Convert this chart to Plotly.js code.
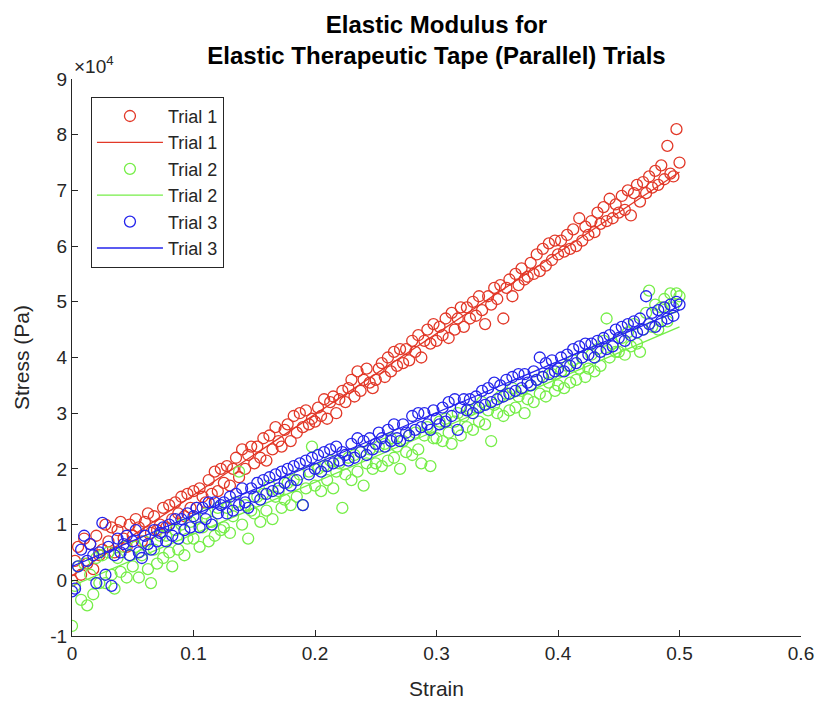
<!DOCTYPE html>
<html>
<head>
<meta charset="utf-8">
<script src="https://cdn.plot.ly/plotly-3.0.1.min.js"></script>
<style>html,body{margin:0;padding:0;background:#fff;}#chart{width:825px;height:719px;}</style>
</head>
<body>
<div id="chart"></div>
<script>
// Strain values (shared by all three trials)
const strain = [
0,0.0025,0.005,0.0075,0.01,0.0125,0.015,0.0175,0.02,0.0225,
0.025,0.0275,0.03,0.0325,0.035,0.0375,0.04,0.0425,0.045,0.0475,
0.05,0.0525,0.055,0.0575,0.06,0.0625,0.065,0.0675,0.07,0.0725,
0.075,0.0775,0.08,0.0825,0.085,0.0875,0.09,0.0925,0.095,0.0975,
0.1,0.1025,0.105,0.1075,0.11,0.1125,0.115,0.1175,0.12,0.1225,
0.125,0.1275,0.13,0.1325,0.135,0.1375,0.14,0.1425,0.145,0.1475,
0.15,0.1525,0.155,0.1575,0.16,0.1625,0.165,0.1675,0.17,0.1725,
0.175,0.1775,0.18,0.1825,0.185,0.1875,0.19,0.1925,0.195,0.1975,
0.2,0.2025,0.205,0.2075,0.21,0.2125,0.215,0.2175,0.22,0.2225,
0.225,0.2275,0.23,0.2325,0.235,0.2375,0.24,0.2425,0.245,0.2475,
0.25,0.2525,0.255,0.2575,0.26,0.2625,0.265,0.2675,0.27,0.2725,
0.275,0.2775,0.28,0.2825,0.285,0.2875,0.29,0.2925,0.295,0.2975,
0.3,0.3025,0.305,0.3075,0.31,0.3125,0.315,0.3175,0.32,0.3225,
0.325,0.3275,0.33,0.3325,0.335,0.3375,0.34,0.3425,0.345,0.3475,
0.35,0.3525,0.355,0.3575,0.36,0.3625,0.365,0.3675,0.37,0.3725,
0.375,0.3775,0.38,0.3825,0.385,0.3875,0.39,0.3925,0.395,0.3975,
0.4,0.4025,0.405,0.4075,0.41,0.4125,0.415,0.4175,0.42,0.4225,
0.425,0.4275,0.43,0.4325,0.435,0.4375,0.44,0.4425,0.445,0.4475,
0.45,0.4525,0.455,0.4575,0.46,0.4625,0.465,0.4675,0.47,0.4725,
0.475,0.4775,0.48,0.4825,0.485,0.4875,0.49,0.4925,0.495,0.4975,
0.5];

// Stress in units of 10^4 Pa
const trial1Stress = [
0.0,0.35,0.6,0.1,0.75,0.3,0.65,0.2,0.8,0.45,
0.55,1.0,0.7,0.95,0.5,0.9,1.05,0.75,0.6,1.0,
0.8,1.1,0.95,0.7,1.05,1.2,0.85,1.15,0.9,1.0,
1.3,0.95,1.35,1.1,1.4,1.2,1.5,1.15,1.55,1.3,
1.6,1.3,1.65,1.5,1.4,1.8,1.55,1.95,1.6,2.0,
1.75,2.05,1.7,2.0,2.2,1.85,2.35,2.0,2.25,2.4,
2.1,2.4,2.2,2.55,2.15,2.6,2.35,2.75,2.5,2.4,
2.7,2.8,2.5,2.95,2.65,3.0,2.75,3.05,2.8,2.9,
2.85,3.1,2.95,3.25,2.9,3.2,3.3,3.0,3.25,3.4,
3.2,3.45,3.6,3.3,3.75,3.4,3.6,3.8,3.55,3.45,
3.6,3.8,3.9,3.65,4.0,3.75,4.1,3.85,4.15,3.9,
4.15,3.95,4.3,4.1,4.4,4.0,4.3,4.5,4.25,4.6,
4.3,4.55,4.4,4.7,4.35,4.8,4.5,4.7,4.9,4.55,
4.9,4.7,5.0,4.75,5.1,4.85,4.6,5.1,4.95,5.25,
5.05,5.3,4.7,5.25,5.4,5.1,5.5,5.3,5.6,5.4,
5.45,5.7,5.5,5.85,5.55,5.95,5.65,6.05,5.75,6.1,
5.85,6.1,5.9,6.2,5.95,6.3,6.0,6.5,6.1,6.35,
6.2,6.45,6.25,6.6,6.4,6.7,6.45,6.85,6.5,6.75,
6.6,6.9,6.65,7.0,6.55,6.95,7.1,6.8,7.15,6.95,
7.25,7.05,7.35,7.1,7.45,7.2,7.8,7.3,7.25,8.1,
7.5];

const trial2Stress = [
-0.82,-0.1,0.25,-0.35,0.3,-0.45,0.1,-0.25,0.4,-0.05,
0.45,-0.05,0.5,0.1,-0.15,0.4,0.15,0.6,0.05,0.45,
0.25,0.6,0.05,0.45,0.7,0.2,-0.05,0.55,0.3,0.8,
0.4,0.8,0.5,0.25,0.9,0.55,1.0,0.45,0.75,1.05,
0.75,1.1,0.6,0.95,1.2,0.7,1.05,0.8,1.3,0.9,
0.95,1.3,0.85,1.15,1.4,1.95,1.0,1.35,0.75,1.25,
1.2,1.5,1.05,1.55,1.25,1.7,1.1,1.5,1.6,1.3,
1.45,1.75,1.35,1.8,1.5,1.9,1.35,1.65,1.95,2.4,
1.7,2.0,1.6,2.05,1.8,2.15,1.65,1.95,2.1,1.3,
1.9,2.2,1.8,2.25,1.95,2.3,1.7,2.1,2.35,2.0,
2.1,2.4,2.05,2.45,2.15,2.55,2.2,2.4,2.0,2.5,
2.3,2.6,2.25,2.65,2.35,2.1,2.6,2.75,2.05,2.55,
2.55,2.85,2.5,2.9,2.65,2.45,2.85,3.0,2.6,2.95,
2.75,3.05,2.7,3.1,2.85,3.2,2.8,3.05,2.5,3.15,
3.0,3.3,2.95,3.35,3.05,3.45,3.1,3.3,3.4,3.0,
3.25,3.5,3.2,3.6,3.35,3.65,3.3,3.55,3.7,3.4,
3.5,3.75,3.45,3.85,3.55,3.95,3.6,3.8,4.0,3.65,
3.8,4.05,3.75,4.15,3.85,4.3,4.7,4.0,4.25,4.1,
4.1,4.35,4.05,4.45,4.2,4.6,4.25,4.1,4.5,4.8,
5.2,4.55,4.95,4.5,4.9,5.05,4.65,5.15,4.9,5.15,
5.1];

const trial3Stress = [
-0.2,-0.15,0.25,0.55,0.8,0.35,0.65,0.45,-0.05,0.5,
1.03,0.1,0.6,-0.1,0.45,0.75,0.5,0.65,0.8,0.45,
0.7,0.9,0.5,0.4,0.8,0.65,0.55,0.9,0.7,0.85,
0.95,0.7,1.0,0.8,1.1,0.75,1.1,0.9,1.2,0.95,
1.15,1.3,0.95,1.3,1.1,1.4,1.0,1.4,1.2,1.35,
1.4,1.2,1.5,1.25,1.55,1.35,1.65,1.4,1.3,1.65,
1.5,1.75,1.45,1.8,1.55,1.85,1.6,1.9,1.65,1.95,
1.75,2.0,1.7,2.05,1.8,2.1,1.35,2.15,1.9,2.2,
2.0,2.25,1.95,2.3,2.05,2.35,2.1,2.4,2.15,2.3,
2.25,2.15,2.45,2.2,2.55,2.3,2.5,2.25,2.55,2.35,
2.45,2.65,2.55,2.4,2.7,2.5,2.8,2.55,2.5,2.8,
2.65,2.6,2.95,2.7,3.0,2.75,3.0,2.8,2.7,3.05,
2.9,2.8,3.1,2.85,3.2,2.95,3.25,2.7,3.1,3.25,
3.05,3.25,3.0,3.3,3.1,3.4,3.15,3.45,3.2,3.55,
3.25,3.5,3.3,3.6,3.35,3.65,3.4,3.7,3.45,3.7,
3.55,3.5,3.75,3.6,4.0,3.65,3.9,3.7,3.95,3.75,
3.8,4.0,3.75,4.05,3.85,4.15,3.9,4.2,4.0,4.25,
4.05,4.25,4.0,4.3,4.1,4.35,4.15,4.4,4.2,4.5,
4.35,4.55,4.3,4.6,4.4,4.65,4.45,4.7,4.5,5.1,
4.6,4.8,4.55,4.85,4.65,4.9,4.7,4.95,4.75,5.0,
4.95];

// Linear fit lines (endpoints, units of 10^4 Pa)
const fitStrain = [0, 0.5];
const trial1Fit = [0.08, 7.33];
const trial2Fit = [-0.1, 4.55];
const trial3Fit = [0.25, 4.85];

const seriesNames = ['Trial 1', 'Trial 2', 'Trial 3'];
const seriesColors = ['rgb(226,56,40)', 'rgb(118,238,72)', 'rgb(36,36,236)'];

const xTickVals = [0, 0.1, 0.2, 0.3, 0.4, 0.5, 0.6];
const xTickText = ['0', '0.1', '0.2', '0.3', '0.4', '0.5', '0.6'];
const yTickVals = [-1, 0, 1, 2, 3, 4, 5, 6, 7, 8, 9];
const yTickText = ['-1', '0', '1', '2', '3', '4', '5', '6', '7', '8', '9'];

const pointSets = [trial1Stress, trial2Stress, trial3Stress];
const fitSets = [trial1Fit, trial2Fit, trial3Fit];

const traces = [];
for (let i = 0; i < 3; i++) {
  traces.push({
    x: strain, y: pointSets[i], type: 'scatter', mode: 'markers', name: seriesNames[i],
    marker: {symbol: 'circle-open', size: 11, color: seriesColors[i], line: {width: 1.3, color: seriesColors[i]}}
  });
  traces.push({
    x: fitStrain, y: fitSets[i], type: 'scatter', mode: 'lines', name: seriesNames[i],
    line: {color: seriesColors[i], width: 1.3}
  });
}

const axisColor = '#262626';
const font = 'Liberation Sans, Arial, Helvetica, sans-serif';

const layout = {
  width: 825, height: 719,
  margin: {l: 72, r: 24, t: 79, b: 83, pad: 0},
  paper_bgcolor: '#fff', plot_bgcolor: '#fff',
  font: {family: font, color: axisColor, size: 19},
  title: {
    text: '<b>Elastic Modulus for<br>Elastic Therapeutic Tape (Parallel) Trials</b>',
    font: {family: font, size: 24, color: '#000'},
    x: 0.5, xanchor: 'center', xref: 'paper',
    y: 1 - 33 / 719, yanchor: 'middle', yref: 'container'
  },
  xaxis: {
    range: [0, 0.6], tickvals: xTickVals, ticktext: xTickText,
    ticks: 'inside', ticklen: 6, tickwidth: 1, tickcolor: axisColor,
    showline: true, linecolor: axisColor, linewidth: 1, mirror: false,
    showgrid: false, zeroline: false,
    tickfont: {size: 19, color: axisColor, family: font},
    title: {text: 'Strain', font: {size: 21, color: axisColor, family: font}, standoff: 18}
  },
  yaxis: {
    range: [-1, 9], tickvals: yTickVals, ticktext: yTickText,
    ticks: 'inside', ticklen: 6, tickwidth: 1, tickcolor: axisColor,
    showline: true, linecolor: axisColor, linewidth: 1, mirror: false,
    showgrid: false, zeroline: false,
    tickfont: {size: 19, color: axisColor, family: font},
    title: {text: 'Stress (Pa)', font: {size: 21, color: axisColor, family: font}, standoff: 14}
  },
  legend: {
    x: 0.026, y: 0.968, xanchor: 'left', yanchor: 'top',
    bgcolor: '#fff', bordercolor: axisColor, borderwidth: 1,
    font: {size: 18, color: axisColor, family: font},
    itemwidth: 66, tracegroupgap: 0
  },
  annotations: [{
    text: '×10<sup>4</sup>', xref: 'paper', yref: 'paper', x: 0, y: 1,
    xanchor: 'left', yanchor: 'bottom', showarrow: false,
    font: {size: 19, color: axisColor, family: font}
  }],
  showlegend: true
};

Plotly.newPlot('chart', traces, layout, {displayModeBar: false, staticPlot: true});
</script>
</body>
</html>
